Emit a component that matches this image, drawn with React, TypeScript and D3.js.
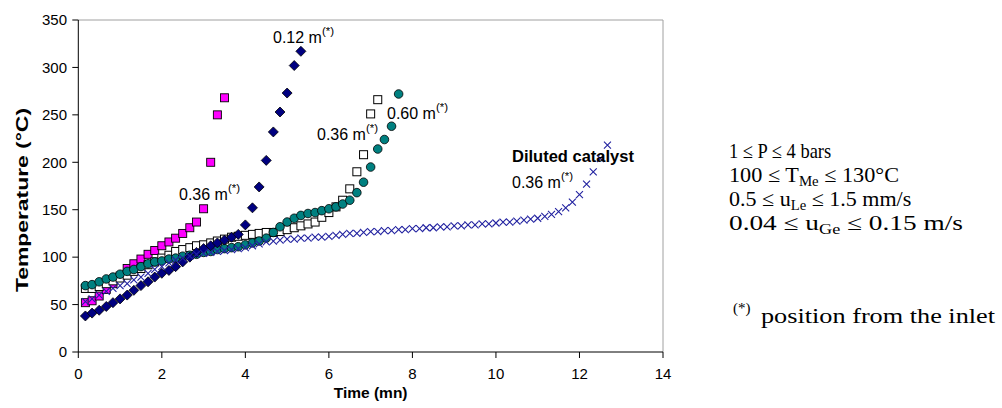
import React from "react";
import * as d3 from "d3";

// ---- data (time in min, temperature in °C) ----
const magentaT = [0.17,0.33,0.5,0.67,0.83,1.0,1.17,1.33,1.5,1.67,1.83,2.0,2.17,2.33,2.5,2.67,2.83,3.0,3.17,3.33,3.5];
const magentaY = [52,54,59,66,72,80,88,93,98,103,107,112,116,120,125,131,137,151,200,250,268];

const diamondT = [0.17,0.33,0.5,0.67,0.83,1.0,1.17,1.33,1.5,1.67,1.83,2.0,2.17,2.33,2.5,2.67,2.83,3.0,3.17,3.33,3.5,3.67,3.83,4.0,4.17,4.33,4.5,4.67,4.83,5.0,5.17,5.33];
const diamondY = [38,41,44,48,52,56,60,65,70,74,79,83,86,90,95,100,105,109,112,115,118,121,124,134,152,174,202,232,253,273,302,317];

const whiteT = [0.17,0.33,0.5,0.67,0.83,1.0,1.17,1.33,1.5,1.67,1.83,2.0,2.17,2.33,2.5,2.67,2.83,3.0,3.17,3.33,3.5,3.67,3.83,4.0,4.17,4.33,4.5,4.67,4.83,5.0,5.17,5.33,5.5,5.67,5.83,6.0,6.17,6.33,6.5,6.67,6.83,7.0,7.17];
const whiteY = [67,67,69,72,75,78,81,85,88,92,95,99,102,106,108,110,112,113,115,117,119,121,122,123,124,125,126,126,127,129,131,133,135,137,142,147,153,160,172,190,208,251,266];

const tealT = [0.17,0.33,0.5,0.67,0.83,1.0,1.17,1.33,1.5,1.67,1.83,2.0,2.17,2.33,2.5,2.67,2.83,3.0,3.17,3.33,3.5,3.67,3.83,4.0,4.17,4.33,4.5,4.67,4.83,5.0,5.17,5.33,5.5,5.67,5.83,6.0,6.17,6.33,6.5,6.67,6.83,7.0,7.17,7.33,7.5,7.67];
const tealY = [70,71,74,77,79,82,85,87,90,93,95,96,98,99,101,102,103,105,106,108,109,110,111,113,115,117,120,126,132,137,141,144,146,147,149,151,153,156,160,168,179,195,214,224,238,272];

const dilutedT = [0.17,0.33,0.5,0.67,0.83,1.0,1.17,1.33,1.5,1.67,1.83,2.0,2.17,2.33,2.5,2.67,2.83,3.0,3.17,3.33,3.5,3.67,3.83,4.0,4.17,4.33,4.5,4.67,4.83,5.0,5.17,5.33,5.5,5.67,5.83,6.0,6.17,6.33,6.5,6.67,6.83,7.0,7.17,7.33,7.5,7.67,7.83,8.0,8.17,8.33,8.5,8.67,8.83,9.0,9.17,9.33,9.5,9.67,9.83,10.0,10.17,10.33,10.5,10.67,10.83,11.0,11.17,11.33,11.5,11.67,11.83,12.0,12.17,12.33,12.5,12.67];
const dilutedY = [53,56,60,64,67,70,72,76,79,83,
  87,90,94,97,99,101,103,104,105,106,
  107,108,109,110,112,114,116,117,118,119,
  119,120,120,121,121,122,123,124,125,125,
  126,127,127,128,128,129,129,130,130,131,
  131,132,132,133,133,134,134,135,135,136,
  137,137,138,139,140,141,143,145,148,152,
  158,166,177,190,204,218];

const xTicks = [0, 2, 4, 6, 8, 10, 12, 14];
const yTicks = [0, 50, 100, 150, 200, 250, 300, 350];

const W = 1002, H = 408;
const M = { left: 78.3, right: 663, top: 20, bottom: 352 };

export default function App() {
  const x = d3.scaleLinear().domain([0, 14]).range([M.left, M.right]);
  const y = d3.scaleLinear().domain([0, 350]).range([M.bottom, M.top]);
  const zip = (t: number[], v: number[]) => t.map((tt, i) => [x(tt), y(v[i])] as [number, number]);

  const sq = 8, dia = 5, cr = 4.3, xs = 3.5;
  const sans = "Arial, 'Liberation Sans', Helvetica, sans-serif";
  const serif = "'Times New Roman', 'Liberation Serif', Times, serif";

  const Label = ({ x0, y0, text }: { x0: number; y0: number; text: string }) => (
    <text x={x0} y={y0} fontFamily={sans} fontSize={16} fill="#000">
      {text}
      <tspan dy={-8} fontSize={11.5}>(*)</tspan>
    </text>
  );

  const sub = (s: string) => <tspan dy={4} fontSize={14}>{s}</tspan>;

  return (
    <div style={{ position: "absolute", left: 0, top: 0 }}>
      <svg width={W} height={H} style={{ display: "block", background: "#fff" }}>
        {/* frame */}
        <line x1={M.left} x2={M.right} y1={M.top} y2={M.top} stroke="#a0a0a0" strokeWidth={1} />
        <line x1={M.right} x2={M.right} y1={M.top} y2={M.bottom} stroke="#a0a0a0" strokeWidth={1} />
        <line x1={M.left} x2={M.left} y1={M.top} y2={M.bottom} stroke="#000" strokeWidth={1} />
        <line x1={M.left} x2={M.right} y1={M.bottom} y2={M.bottom} stroke="#000" strokeWidth={1} />
        {yTicks.map((t) => (
          <g key={"y" + t}>
            <line x1={M.left - 6} x2={M.left} y1={y(t)} y2={y(t)} stroke="#000" />
            <text x={67} y={y(t)} dy="0.35em" textAnchor="end" fontFamily={sans} fontSize={15}>{t}</text>
          </g>
        ))}
        {xTicks.map((t) => (
          <g key={"x" + t}>
            <line x1={x(t)} x2={x(t)} y1={M.bottom} y2={M.bottom + 6} stroke="#000" />
            <text x={x(t)} y={379} textAnchor="middle" fontFamily={sans} fontSize={15}>{t}</text>
          </g>
        ))}
        <text x={(M.left + M.right) / 2} y={398} textAnchor="middle" fontFamily={sans} fontSize={15.5} fontWeight="bold">Time (mn)</text>
        <text transform="translate(28,200) rotate(-90)" textAnchor="middle" fontFamily={sans} fontSize={17} fontWeight="bold"
          textLength={184} lengthAdjust="spacingAndGlyphs">Temperature  (°C)</text>

        {/* series */}
        {zip(magentaT, magentaY).map(([px, py], i) => (
          <rect key={"m" + i} x={px - sq / 2} y={py - sq / 2} width={sq} height={sq} fill="#ff00ff" stroke="#000" strokeWidth={0.9} />
        ))}
        {zip(whiteT, whiteY).map(([px, py], i) => (
          <rect key={"w" + i} x={px - sq / 2} y={py - sq / 2} width={sq} height={sq} fill="#fff" stroke="#000" strokeWidth={1} />
        ))}
        {zip(tealT, tealY).map(([px, py], i) => (
          <circle key={"t" + i} cx={px} cy={py} r={cr} fill="#008080" stroke="#000" strokeWidth={0.8} />
        ))}
        {zip(diamondT, diamondY).map(([px, py], i) => (
          <path key={"d" + i} d={`M${px},${py - dia}L${px + dia},${py}L${px},${py + dia}L${px - dia},${py}Z`} fill="#000080" stroke="#000" strokeWidth={0.8} />
        ))}
        {zip(dilutedT, dilutedY).map(([px, py], i) => (
          <path key={"x" + i} d={`M${px - xs},${py - xs}L${px + xs},${py + xs}M${px - xs},${py + xs}L${px + xs},${py - xs}`} stroke="#2222a0" strokeWidth={1.1} fill="none" />
        ))}

        {/* annotations */}
        <Label x0={273} y0={43} text="0.12 m" />
        <Label x0={179} y0={200} text="0.36 m" />
        <Label x0={317} y0={140} text="0.36 m" />
        <Label x0={387} y0={119} text="0.60 m" />
        <text x={512} y={162} fontFamily={sans} fontSize={16.5} fontWeight="bold">Diluted catalyst</text>
        <Label x0={512} y0={188} text="0.36 m" />

        {/* conditions */}
        <g fontFamily={serif} fontSize={21} fill="#000">
          <text transform="translate(729,158) scale(0.88,1)">1 ≤ P ≤ 4 bars</text>
          <text transform="translate(729,182) scale(1.06,1)">100 ≤ T{sub("Me")}<tspan dy={-4}> ≤ 130°C</tspan></text>
          <text transform="translate(729,206) scale(1.05,1)">0.5 ≤ u{sub("Le")}<tspan dy={-4}> ≤ 1.5 mm/s</tspan></text>
          <text transform="translate(729,230) scale(1.3,1)">0.04 ≤ u{sub("Ge")}<tspan dy={-4}> ≤  0.15 m/s</tspan></text>
          <text x={733} y={313} fontSize={15}>(*)</text>
          <text transform="translate(761,323) scale(1.25,1)">position from the inlet</text>
        </g>
      </svg>
    </div>
  );
}
